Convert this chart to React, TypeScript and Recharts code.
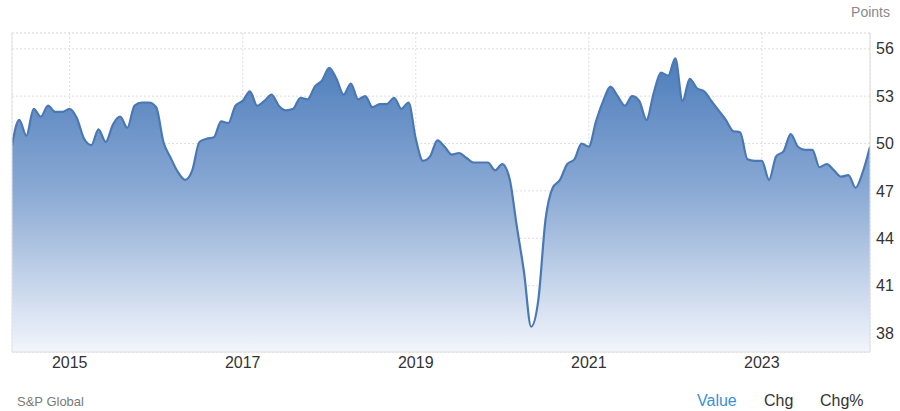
import React from "react";
import {
  AreaChart,
  Area,
  XAxis,
  YAxis,
  CartesianGrid,
  ReferenceLine,
} from "recharts";

// Monthly index values, May 2014 .. Apr 2024
const values2014 = [49.9, 51.5, 50.5, 52.2, 51.7, 52.4, 52.0, 52.0];
const values2015 = [52.2, 51.6, 50.3, 49.9, 50.9, 50.1, 51.2, 51.7, 51.0, 52.4, 52.6, 52.6];
const values2016 = [52.3, 50.1, 49.1, 48.2, 47.7, 48.3, 50.1, 50.3, 50.4, 51.4, 51.3, 52.4];
const values2017 = [52.7, 53.3, 52.4, 52.7, 53.1, 52.4, 52.1, 52.2, 52.9, 52.8, 53.6, 54.0];
const values2018 = [54.8, 54.1, 53.1, 53.8, 52.8, 53.0, 52.3, 52.5, 52.5, 52.9, 52.2, 52.6];
const values2019 = [50.3, 48.9, 49.2, 50.2, 49.8, 49.3, 49.4, 49.1, 48.8, 48.8, 48.8, 48.3];
const values2020 = [48.7, 47.8, 44.8, 41.9, 38.4, 40.1, 45.2, 47.2, 47.7, 48.7, 49.0, 50.0];
const values2021 = [49.8, 51.4, 52.7, 53.6, 53.0, 52.4, 53.0, 52.7, 51.5, 53.2, 54.5, 54.3];
const values2022 = [55.4, 52.7, 54.1, 53.5, 53.3, 52.7, 52.1, 51.5, 50.8, 50.7, 49.0, 48.9];
const values2023 = [48.9, 47.7, 49.2, 49.5, 50.6, 49.8, 49.6, 49.6, 48.5, 48.7, 48.3, 47.9];
const values2024 = [48.0, 47.2, 48.2, 49.8];

// x tick positions (month index of January) and labels
const xTickIndex = [8, 32, 56, 80, 104];
const xTickLabels = ["2015", "2017", "2019", "2021", "2023"];
const yTicks = [38, 41, 44, 47, 50, 53, 56];

const allValues = [
  ...values2014,
  ...values2015,
  ...values2016,
  ...values2017,
  ...values2018,
  ...values2019,
  ...values2020,
  ...values2021,
  ...values2022,
  ...values2023,
  ...values2024,
];

const data = allValues.map((v, i) => ({ i, v }));

const FONT = '"Liberation Sans", Arial, Helvetica, sans-serif';

export default function App() {
  return (
    <div
      style={{
        position: "absolute",
        left: 0,
        top: 0,
        width: 900,
        height: 411,
        background: "#ffffff",
        fontFamily: FONT,
      }}
    >
      <AreaChart
        width={900}
        height={411}
        data={data}
        margin={{ top: 33, right: 0, bottom: 29, left: 12 }}
      >
        <defs>
          <linearGradient id="fillGrad" x1="0" y1="0" x2="0" y2="1">
            <stop offset="0%" stopColor="#4d7dbb" stopOpacity={1} />
            <stop offset="45%" stopColor="#8aa9d4" stopOpacity={1} />
            <stop offset="100%" stopColor="#f2f5fb" stopOpacity={1} />
          </linearGradient>
        </defs>
        <CartesianGrid
          stroke="#dedede"
          strokeDasharray="2 2"
          vertical={true}
          horizontal={true}
        />
        <XAxis
          dataKey="i"
          type="number"
          domain={[0, 119]}
          ticks={xTickIndex}
          tickFormatter={(t: number) => xTickLabels[xTickIndex.indexOf(t)] ?? ""}
          tickLine={false}
          tickSize={4}
          tickMargin={1}
          axisLine={{ stroke: "#dcdcdc" }}
          tick={{ fill: "#333333", fontSize: 16, fontFamily: FONT }}
          height={30}
          allowDataOverflow
        />
        <YAxis
          orientation="right"
          domain={[36.8, 57]}
          ticks={yTicks}
          tickLine={false}
          tickSize={6}
          tickMargin={0}
          axisLine={{ stroke: "#dcdcdc" }}
          tick={{ fill: "#333333", fontSize: 16, fontFamily: FONT }}
          width={30}
          allowDataOverflow
        />
        <ReferenceLine y={57} stroke="#e4e4e4" strokeDasharray="2 2" />
        <ReferenceLine x={0} stroke="#e4e4e4" />
        <Area
          type="monotone"
          dataKey="v"
          stroke="#4a78b4"
          strokeWidth={2.2}
          fill="url(#fillGrad)"
          fillOpacity={1}
          isAnimationActive={false}
          dot={false}
          activeDot={false}
        />
      </AreaChart>
      <div
        style={{
          position: "absolute",
          right: 10,
          top: 5,
          fontSize: 14,
          lineHeight: "14px",
          color: "#8a8a8a",
        }}
      >
        Points
      </div>
      <div
        style={{
          position: "absolute",
          left: 17,
          top: 395,
          fontSize: 13,
          lineHeight: "13px",
          color: "#7a7a7a",
        }}
      >
        S&amp;P Global
      </div>
      <div
        style={{
          position: "absolute",
          left: 697,
          top: 393,
          fontSize: 16,
          lineHeight: "16px",
          color: "#3c8fd6",
        }}
      >
        Value
      </div>
      <div
        style={{
          position: "absolute",
          left: 764,
          top: 393,
          fontSize: 16,
          lineHeight: "16px",
          color: "#333333",
        }}
      >
        Chg
      </div>
      <div
        style={{
          position: "absolute",
          left: 820,
          top: 393,
          fontSize: 16,
          lineHeight: "16px",
          color: "#333333",
        }}
      >
        Chg%
      </div>
    </div>
  );
}
